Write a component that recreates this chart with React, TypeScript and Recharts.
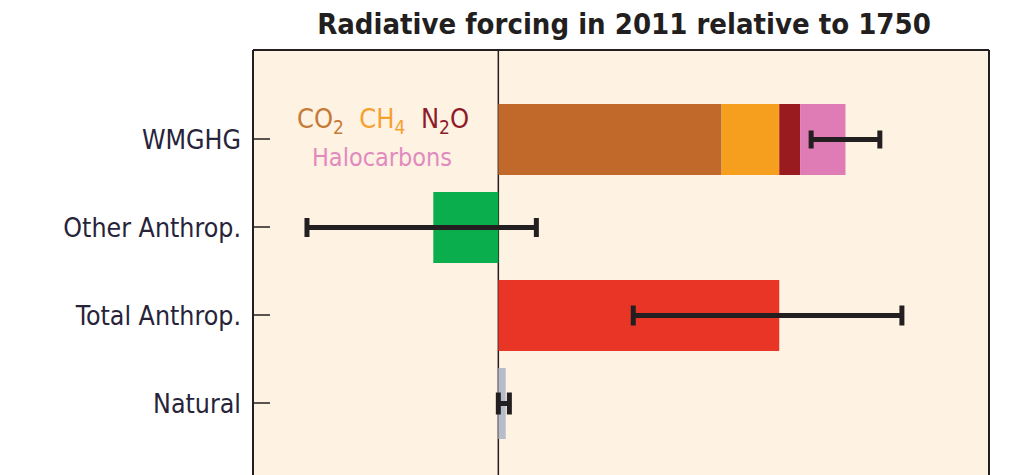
import React from 'react';
import { BarChart, Bar, XAxis, YAxis, CartesianGrid, ErrorBar } from 'recharts';

const FONT = "'DejaVu Sans Condensed', 'Liberation Sans', sans-serif";

const categories = ['WMGHG', 'Other Anthrop.', 'Total Anthrop.', 'Natural'];
const co2Values = [1.82, 0, 0, 0];
const ch4Values = [0.47, 0, 0, 0];
const n2oValues = [0.17, 0, 0, 0];
const haloValues = [0.37, 0, 0, 0];
const otherValues = [0, -0.53, 0, 0];
const totalValues = [0, 0, 2.29, 0];
const naturalValues = [0, 0, 0, 0.06];
// error ranges as [below, above] the bar end
const errBelow = [0.28, 1.03, 1.19, 0.06];
const errAbove = [0.28, 0.84, 1.0, 0.03];
const xDomain = [-2, 4];

const data = categories.map((name, i) => ({
  name,
  co2: co2Values[i],
  ch4: ch4Values[i],
  n2o: n2oValues[i],
  halo: haloValues[i],
  other: otherValues[i],
  total: totalValues[i],
  natural: naturalValues[i],
  haloErr: i === 0 ? [errBelow[i], errAbove[i]] : undefined,
  otherErr: i === 1 ? [errBelow[i], errAbove[i]] : undefined,
  totalErr: i === 2 ? [errBelow[i], errAbove[i]] : undefined,
  naturalErr: i === 3 ? [errBelow[i], errAbove[i]] : undefined,
}));

const INK = '#231f20';

const YTick = (props: any) => {
  const { x, y, payload } = props;
  return (
    <g>
      <line x1={x} y1={y} x2={x + 17} y2={y} stroke={INK} strokeWidth={1.5} />
      <text x={x - 12} y={y} dy="0.36em" textAnchor="end" fontSize={26.5} fill="#27243a" fontFamily={FONT}>
        {payload.value}
      </text>
    </g>
  );
};

const frameVertical = (p: any) => [p.offset.left, p.offset.left + p.offset.width];
const frameHorizontal = (p: any) => [p.offset.top];
const zeroVertical = (p: any) => {
  const s = p && p.xAxis ? p.xAxis.scale : undefined;
  if (typeof s === 'function') {
    const v = s(0);
    if (typeof v === 'number' && isFinite(v)) return [v];
  }
  if (s && typeof s.map === 'function') {
    const v = s.map(0);
    if (typeof v === 'number' && isFinite(v)) return [v];
  }
  const o = p.offset;
  return [o.left + ((0 - xDomain[0]) / (xDomain[1] - xDomain[0])) * o.width];
};

export default function App() {
  return (
    <div style={{ position: 'relative', width: 1015, height: 496 }}>
      <BarChart
        width={1015}
        height={496}
        data={data}
        layout="vertical"
        margin={{ top: 42, right: 34, bottom: 10, left: 0 }}
        barSize={71}
      >
        <CartesianGrid
          fill="#fef2e2"
          fillOpacity={1}
          stroke={INK}
          strokeWidth={2}
          verticalCoordinatesGenerator={frameVertical}
          horizontalCoordinatesGenerator={frameHorizontal}
        />
        <CartesianGrid
          stroke={INK}
          strokeWidth={1.5}
          horizontal={false}
          verticalCoordinatesGenerator={zeroVertical}
        />
        <XAxis type="number" domain={xDomain} hide allowDataOverflow />
        <YAxis
          type="category"
          dataKey="name"
          width={245}
          padding={{ top: 45, bottom: 47 }}
          axisLine={false}
          tickLine={false}
          tickSize={0}
          tickMargin={0}
          tick={<YTick />}
          interval={0}
        />
        <Bar dataKey="co2" stackId="a" fill="#c0692b" isAnimationActive={false} />
        <Bar dataKey="ch4" stackId="a" fill="#f69f1e" isAnimationActive={false} />
        <Bar dataKey="n2o" stackId="a" fill="#9a1b1f" isAnimationActive={false} />
        <Bar dataKey="halo" stackId="a" fill="#e07cb5" isAnimationActive={false}>
          <ErrorBar dataKey="haloErr" direction="x" width={9} stroke={INK} strokeWidth={5} />
        </Bar>
        <Bar dataKey="other" stackId="a" fill="#0bae4c" isAnimationActive={false}>
          <ErrorBar dataKey="otherErr" direction="x" width={9.5} stroke={INK} strokeWidth={5} />
        </Bar>
        <Bar dataKey="total" stackId="a" fill="#e93526" isAnimationActive={false}>
          <ErrorBar dataKey="totalErr" direction="x" width={10} stroke={INK} strokeWidth={5} />
        </Bar>
        <Bar dataKey="natural" stackId="a" fill="#b6bcc9" isAnimationActive={false}>
          <ErrorBar dataKey="naturalErr" direction="x" width={11} stroke={INK} strokeWidth={5} />
        </Bar>
      </BarChart>
      <svg
        width={1015}
        height={496}
        overflow="visible"
        style={{ position: 'absolute', left: 0, top: 0, pointerEvents: 'none' }}
      >
        <text x={616} y={26} textAnchor="middle" fontSize={29} fontWeight="bold" fill={INK} fontFamily={FONT}>
          Radiative forcing in 2011 relative to 1750
        </text>
        <text x={375} y={120} textAnchor="middle" fontSize={27} fontFamily={FONT}>
          <tspan fill="#c57a35">CO</tspan>
          <tspan fill="#c57a35" dy={6} fontSize={19}>2</tspan>
          <tspan fill="#f5a030" dy={-6}>{'\u00a0\u00a0CH'}</tspan>
          <tspan fill="#f5a030" dy={6} fontSize={19}>4</tspan>
          <tspan fill="#8e1b2a" dy={-6}>{'\u00a0\u00a0N'}</tspan>
          <tspan fill="#8e1b2a" dy={6} fontSize={19}>2</tspan>
          <tspan fill="#8e1b2a" dy={-6}>O</tspan>
        </text>
        <text x={374} y={158} textAnchor="middle" fontSize={25} fill="#e28abf" fontFamily={FONT}>
          Halocarbons
        </text>
      </svg>
    </div>
  );
}
